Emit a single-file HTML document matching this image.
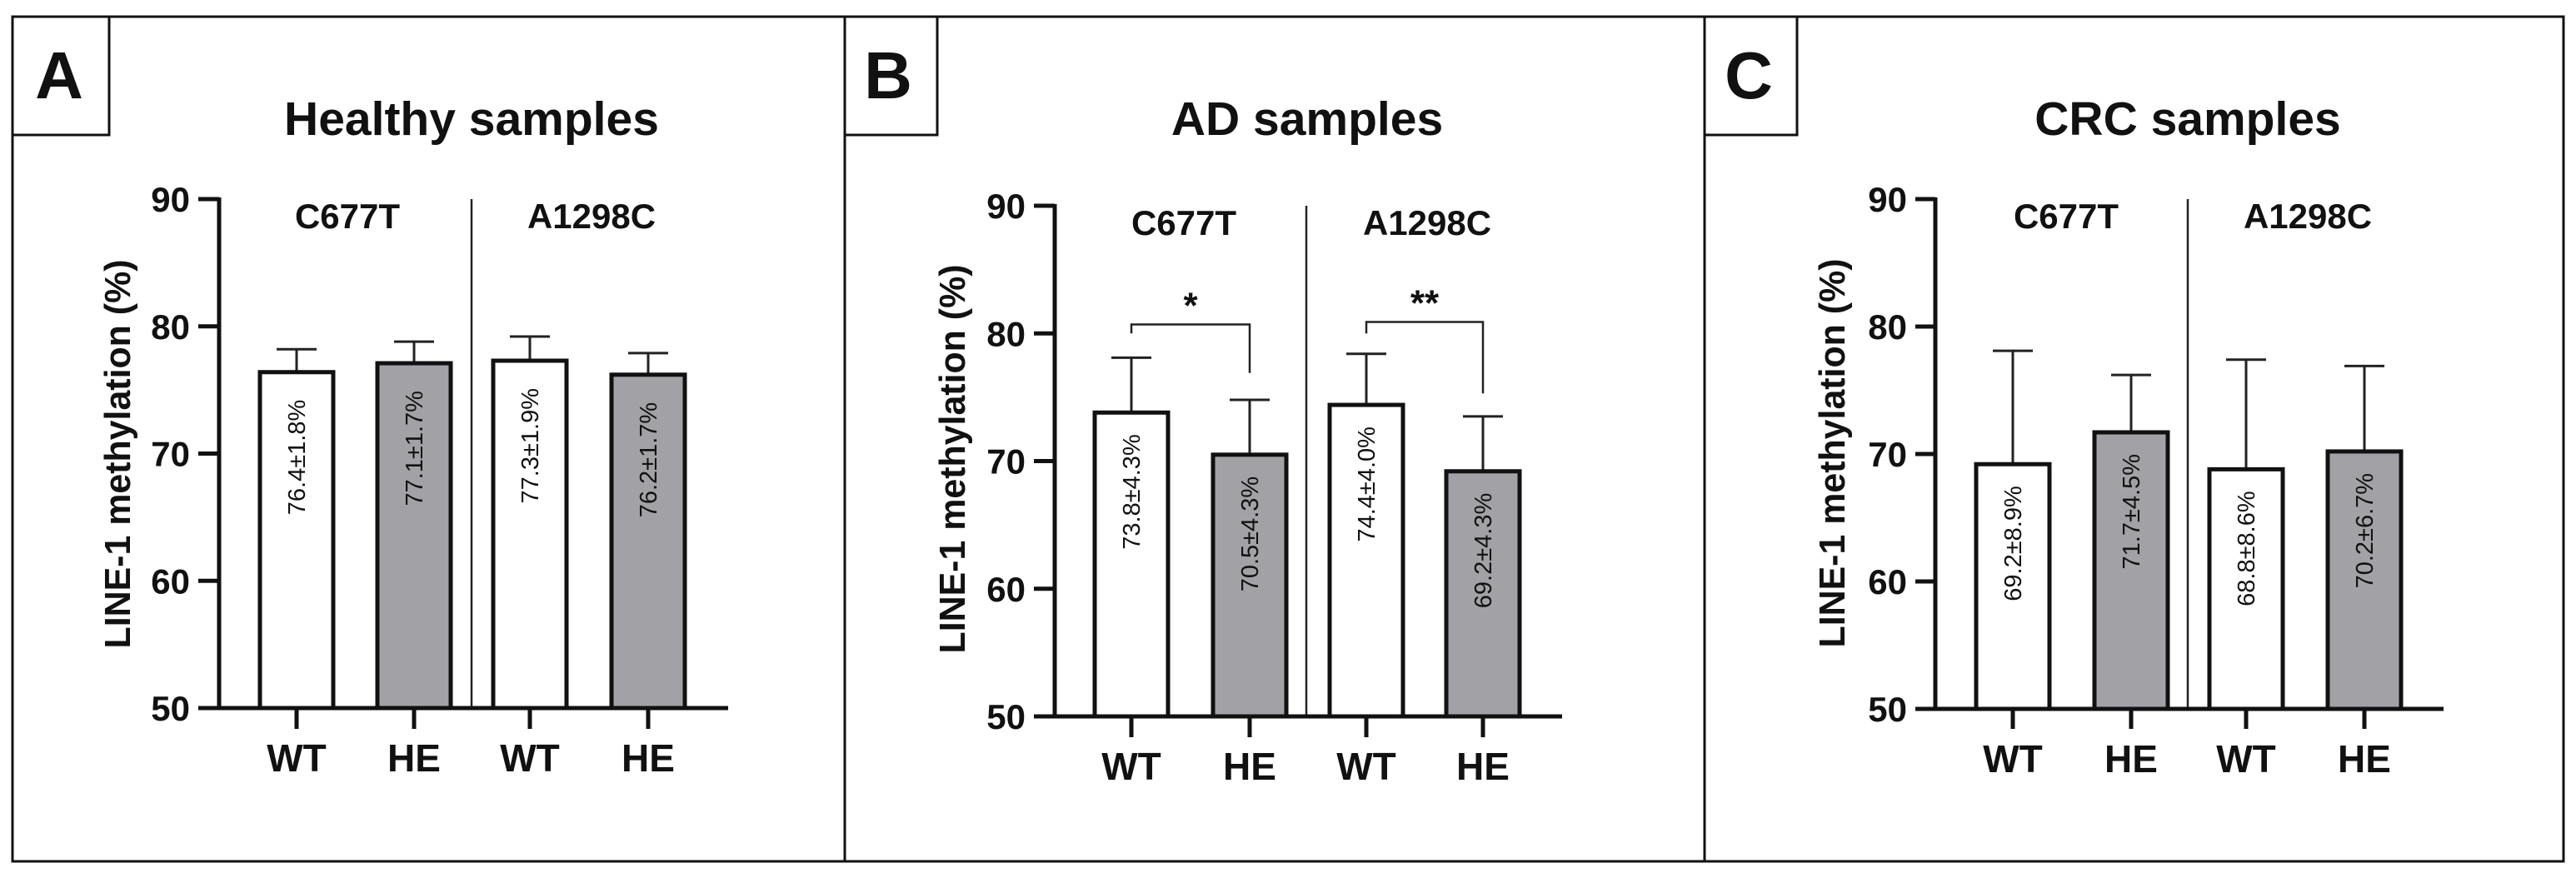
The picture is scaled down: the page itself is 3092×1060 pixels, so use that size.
<!DOCTYPE html>
<html><head><meta charset="utf-8"><style>
html,body{margin:0;padding:0;background:#fff;}
svg{display:block;font-family:"Liberation Sans",Arial,sans-serif;}
</style></head><body>
<svg id="fig" width="3092" height="1060" viewBox="0 0 3092 1060" xmlns="http://www.w3.org/2000/svg"></svg>
<script>
const categories = ["WT","HE","WT","HE"];
const groups = ["C677T","A1298C"];
const yTicks = [50,60,70,80,90];
const healthyMeans = [76.4,77.1,77.3,76.2];
const healthySD = [1.8,1.7,1.9,1.7];
const adMeans = [73.8,70.5,74.4,69.2];
const adSD = [4.3,4.3,4.0,4.3];
const crcMeans = [69.2,71.7,68.8,70.2];
const crcSD = [8.9,4.5,8.6,6.7];
const adBracketFrom = [0,2];
const adBracketTo = [1,3];
const adBracketTop = [80.7,80.9];
const adBracketLeftEnd = [80.0,80.0];
const adBracketRightEnd = [76.9,75.3];
const adBracketStars = ["*","**"];

const NS="http://www.w3.org/2000/svg";
const svg=document.getElementById('fig');
function mk(tag,attrs,parent,text){const e=document.createElementNS(NS,tag);for(const k in attrs)e.setAttribute(k,attrs[k]);if(text!==undefined)e.textContent=text;(parent||svg).appendChild(e);return e;}

// outer frame & panel dividers
const frame=mk('rect',{x:15,y:20,width:3062,height:1014,fill:'none',stroke:'#111','stroke-width':3});


[1014,2046].forEach(x=>{const l=mk('line',{x1:x,y1:20,x2:x,y2:1034,stroke:'#111','stroke-width':3});

});

const panels=[
 {id:'a',letter:'A',title:'Healthy samples',means:healthyMeans,sd:healthySD,left:15,boxR:131,letterX:71,
  axisX:263,axisEnd:874,y90:239,y50:850,centers:[356,497,636,778],divX:566,grpX:[417,710],titleX:566,ylabX:141,ylabY:545,tickLen:25,labelOff:33},
 {id:'b',letter:'B',title:'AD samples',means:adMeans,sd:adSD,left:1014,boxR:1125,letterX:1066,
  axisX:1266,axisEnd:1875,y90:247,y50:860,centers:[1358,1500,1640,1780],divX:1568,grpX:[1421,1713],titleX:1569,ylabX:1143,ylabY:551,tickLen:25,labelOff:26},
 {id:'c',letter:'C',title:'CRC samples',means:crcMeans,sd:crcSD,left:2046,boxR:2157,letterX:2099,
  axisX:2323,axisEnd:2933,y90:239,y50:851,centers:[2416,2558,2696,2838],divX:2626,grpX:[2480,2770],titleX:2626,ylabX:2199,ylabY:544,tickLen:24,labelOff:26}
];

panels.forEach(p=>{
  const g=mk('g',{});
  
  
  const y=v=>p.y50+(v-50)*(p.y90-p.y50)/40;
  const bw=88;
  // letter box
  const box=mk('rect',{x:p.left,y:20,width:p.boxR-p.left,height:142,fill:'#fff',stroke:'#111','stroke-width':3},g);
  
  
  const lt=mk('text',{x:p.letterX,y:118,'text-anchor':'middle','font-size':80,'font-weight':'bold',fill:'#111'},g,p.letter);
  
  
  const tt=mk('text',{x:p.titleX,y:162,'text-anchor':'middle','font-size':57,'font-weight':'bold',fill:'#111'},g,p.title);
  
  
  // y label
  const yl=mk('text',{x:0,y:0,'text-anchor':'middle','font-size':44,'font-weight':'bold',fill:'#111',textLength:467,lengthAdjust:'spacingAndGlyphs',
     transform:`translate(${p.ylabX+15},${p.ylabY}) rotate(-90)`},g,'LINE-1 methylation (%)');
  
  
  // bars
  p.means.forEach((m,i)=>{
    const cx=p.centers[i];
    const top=y(m+p.sd[i]);
    const eb=mk('line',{x1:cx,y1:y(m),x2:cx,y2:top,stroke:'#222','stroke-width':3},g);
    
    
    const cap=mk('line',{x1:cx-24,y1:top,x2:cx+24,y2:top,stroke:'#222','stroke-width':3},g);
    
    
    const r=mk('rect',{x:cx-bw/2,y:y(m),width:bw,height:y(50)-y(m),fill:i%2?'#a2a2a6':'#fff',stroke:'#111','stroke-width':5},g);
    
    
    const bl=mk('text',{x:0,y:0,'text-anchor':'end','font-size':29,fill:'#111',transform:`translate(${cx+10},${y(m)+p.labelOff}) rotate(-90)`},g,m.toFixed(1)+'±'+p.sd[i].toFixed(1)+'%');
    
    
    const xt=mk('line',{x1:cx,y1:y(50),x2:cx,y2:y(50)+p.tickLen,stroke:'#111','stroke-width':5},g);
    
    
    const xl=mk('text',{x:cx,y:y(50)+76,'text-anchor':'middle','font-size':46,'font-weight':'bold',fill:'#111'},g,categories[i]);
    
    
  });
  // divider
  const dv=mk('line',{x1:p.divX,y1:p.y90,x2:p.divX,y2:y(50),stroke:'#222','stroke-width':2.5},g);
  
  
  groups.forEach((gn,j)=>{
    const gl=mk('text',{x:p.grpX[j],y:p.y90+35,'text-anchor':'middle','font-size':42,'font-weight':'bold',fill:'#111'},g,gn);
    
    
  });
  // axes
  const ya=mk('line',{x1:p.axisX,y1:p.y90-2,x2:p.axisX,y2:y(50)+2.5,stroke:'#111','stroke-width':5},g);
  
  
  const xa=mk('line',{x1:p.axisX,y1:y(50),x2:p.axisEnd,y2:y(50),stroke:'#111','stroke-width':5},g);
  
  
  yTicks.forEach(v=>{
    const t=mk('line',{x1:p.axisX-p.tickLen,y1:y(v),x2:p.axisX,y2:y(v),stroke:'#111','stroke-width':5},g);
    
    
    const tl=mk('text',{x:p.axisX-p.tickLen-10,y:y(v)+15,'text-anchor':'end','font-size':42,'font-weight':'bold',fill:'#111'},g,String(v));
    
    
  });
  if(p.id==='b'){
    adBracketFrom.forEach((f,k)=>{
      const x1=p.centers[f],x2=p.centers[adBracketTo[k]];
      const br=mk('polyline',{points:`${x1},${y(adBracketLeftEnd[k])} ${x1},${y(adBracketTop[k])} ${x2},${y(adBracketTop[k])} ${x2},${y(adBracketRightEnd[k])}`,fill:'none',stroke:'#222','stroke-width':2.5},g);
      
      
      const st=mk('text',{x:(x1+x2)/2,y:y(adBracketTop[k])-8,'text-anchor':'middle','font-size':44,'font-weight':'bold',fill:'#111'},g,adBracketStars[k]);
      
      
    });
  }
});
</script>
</body></html>
